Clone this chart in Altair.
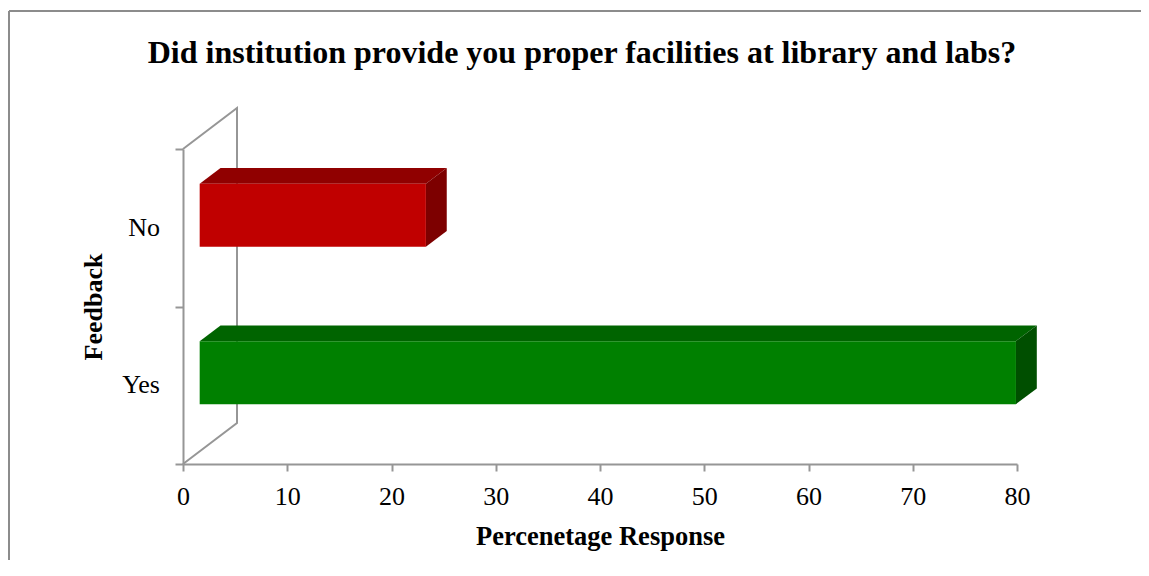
import altair as alt
import pandas as pd

# ---------------- data ----------------
categories = ["Yes", "No"]
values = [78.3, 21.7]
x_ticks = [0, 10, 20, 30, 40, 50, 60, 70, 80]
front_colors = ["#008000", "#C00000"]
top_colors = ["#006400", "#900000"]
side_colors = ["#004F00", "#7D0000"]

title_text = "Did institution provide you proper facilities at library and labs?"
x_title = "Percenetage Response"
y_title = "Feedback"

# ---------------- 3D geometry constants (value / category units) ----------------
FRONT_X = 1.6      # front face shift along value axis
BAR_BOTTOM = 0.38  # bottom of front face inside category band
BAR_THICK = 0.40   # thickness of front face
DEPTH_X = 2.0      # depth projection (x)
DEPTH_Y = 0.10     # depth projection (y)
WALL_DX = 5.18
WALL_DY = 0.26

FONT = "Liberation Serif"
GRAY = "#969696"

front_rows, face_rows, label_rows = [], [], []
for i, (cat, v) in enumerate(zip(categories, values)):
    x0 = FRONT_X
    x1 = FRONT_X + v
    b = i + BAR_BOTTOM
    t = b + BAR_THICK
    front_rows.append(dict(cat=cat, x0=x0, x1=x1, b=b, t=t, color=front_colors[i]))
    # top face (parallelogram) as area: lo / hi at 4 x positions
    fid = f"{cat}_top"
    for xx, lo, hi in [(x0, t, t), (x0 + DEPTH_X, t, t + DEPTH_Y),
                       (x1, t, t + DEPTH_Y), (x1 + DEPTH_X, t + DEPTH_Y, t + DEPTH_Y)]:
        face_rows.append(dict(face=fid, x=xx, lo=lo, hi=hi, color=top_colors[i]))
    fid = f"{cat}_side"
    for xx, lo, hi in [(x1, b, t), (x1 + DEPTH_X, b + DEPTH_Y, t + DEPTH_Y)]:
        face_rows.append(dict(face=fid, x=xx, lo=lo, hi=hi, color=side_colors[i]))
    label_rows.append(dict(cat=cat, x=0, y=i + 0.5))

front_df = pd.DataFrame(front_rows)
face_df = pd.DataFrame(face_rows)
label_df = pd.DataFrame(label_rows)
n = len(categories)
wall_df = pd.DataFrame(dict(
    k=[0, 1, 2, 3],
    x=[0, WALL_DX, WALL_DX, 0],
    y=[0, WALL_DY, n + WALL_DY, n],
))

x_scale = alt.Scale(domain=[0, 80], nice=False, zero=True)
y_scale = alt.Scale(domain=[0, n], nice=False)

x_axis = alt.Axis(values=x_ticks, grid=False, domainColor=GRAY, domainWidth=2,
                  tickColor=GRAY, tickWidth=2, tickSize=7, labelFont=FONT,
                  labelFontSize=26, labelColor="black", labelPadding=12,
                  labelFlush=False,
                  title=x_title, titleFont=FONT, titleFontSize=26.5,
                  titleFontWeight="bold", titleColor="black", titlePadding=14)
y_axis = alt.Axis(values=list(range(n + 1)), grid=False, labels=False,
                  domainColor=GRAY, domainWidth=2, tickColor=GRAY, tickWidth=2,
                  tickSize=8, title=y_title, titleFont=FONT, titleFontSize=26,
                  titleFontWeight="bold", titleColor="black", titlePadding=68)

wall = alt.Chart(wall_df).mark_line(color=GRAY, strokeWidth=2).encode(
    x=alt.X("x:Q", scale=x_scale, axis=x_axis),
    y=alt.Y("y:Q", scale=y_scale, axis=y_axis),
    order="k:Q",
)

faces = alt.Chart(face_df).mark_area(opacity=1).encode(
    x=alt.X("x:Q", scale=x_scale),
    y=alt.Y("lo:Q", scale=y_scale, stack=None),
    y2="hi:Q",
    detail="face:N",
    color=alt.Color("color:N", scale=None),
)

fronts = alt.Chart(front_df).mark_rect().encode(
    x=alt.X("x0:Q", scale=x_scale),
    x2="x1:Q",
    y=alt.Y("b:Q", scale=y_scale),
    y2="t:Q",
    color=alt.Color("color:N", scale=None),
)

labels = alt.Chart(label_df).mark_text(align="right", baseline="middle", dx=-23,
                                       font=FONT, fontSize=26, color="black").encode(
    x=alt.X("x:Q", scale=x_scale),
    y=alt.Y("y:Q", scale=y_scale),
    text="cat:N",
)

frame_left = alt.Chart(label_df).mark_rule(color="#8C8C8C", strokeWidth=2).encode(
    x=alt.value(-174), y=alt.value(-138), y2=alt.value(430))
frame_top = alt.Chart(label_df).mark_rule(color="#8C8C8C", strokeWidth=2).encode(
    y=alt.value(-138), x=alt.value(-174), x2=alt.value(970))

chart = alt.layer(frame_left, frame_top, wall, faces, fronts, labels).properties(
    width=834,
    height=315,
    autosize=alt.AutoSizeParams(type="none"),
    padding={"left": 175, "top": 141, "right": 124, "bottom": 96},
    title=alt.TitleParams(title_text, font=FONT, fontSize=32, fontWeight="bold",
                          color="black", anchor="middle", dx=-18, offset=-60),
).configure_view(stroke=None)

chart.save("out.html", embed_options={"renderer": "svg", "actions": False})
